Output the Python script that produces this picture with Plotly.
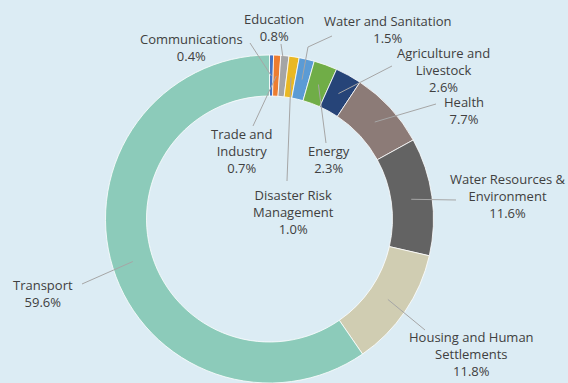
import math
import plotly.graph_objects as go

# Sector shares of total funding (%), clockwise from 12 o'clock
sectors = [
    "Communications",
    "Trade and Industry",
    "Education",
    "Disaster Risk Management",
    "Water and Sanitation",
    "Energy",
    "Agriculture and Livestock",
    "Health",
    "Water Resources & Environment",
    "Housing and Human Settlements",
    "Transport",
]
shares = [0.4, 0.7, 0.8, 1.0, 1.5, 2.3, 2.6, 7.7, 11.6, 11.8, 59.6]
label_lines = [
    ["Communications"],
    ["Trade and", "Industry"],
    ["Education"],
    ["Disaster Risk", "Management"],
    ["Water and Sanitation"],
    ["Energy"],
    ["Agriculture and", "Livestock"],
    ["Health"],
    ["Water Resources &", "Environment"],
    ["Housing and Human", "Settlements"],
    ["Transport"],
]
colors = [
    "#4472c4", "#ed7d31", "#a5a5a5", "#e9b824", "#5b9bd5", "#70ad47",
    "#264478", "#8c7b77", "#636363", "#d0cdb2", "#8ccbba",
]

W, H = 568, 383
BG = "#dcecf4"
TEXT = "#404040"
LEADER = "#a6a6a6"

# Donut placement in pixels
DX0, DX1 = 105, 434
DY0, DY1 = 55, 383
CX, CY = (DX0 + DX1) / 2, (DY0 + DY1) / 2
R = (DX1 - DX0) / 2
HOLE = 0.75

# Callout layout per sector: text block centre, leader start,
# optional elbow, radial fraction where the leader ends
callouts = [
    dict(x=191, y=48, start=(250, 43), elbow=None, rf=0.87),
    dict(x=241, y=151, start=(253, 126), elbow=None, rf=0.87),
    dict(x=274, y=27, start=(281, 44), elbow=None, rf=0.94),
    dict(x=293, y=212, start=(287, 181), elbow=None, rf=0.87),
    dict(x=388, y=29, start=(332, 36), elbow=(308, 47), rf=0.87),
    dict(x=329, y=159, start=(326, 143), elbow=None, rf=0.87),
    dict(x=443, y=70, start=(392, 66), elbow=None, rf=0.87),
    dict(x=464, y=110, start=(436, 104), elbow=None, rf=0.87),
    dict(x=508, y=196, start=(456, 200), elbow=None, rf=0.87),
    dict(x=471, y=354, start=(425, 330), elbow=None, rf=0.87),
    dict(x=43, y=293, start=(82, 284), elbow=None, rf=0.87),
]


def px(x):
    return x / W


def py(y):
    return 1 - y / H


fig = go.Figure(
    go.Pie(
        labels=sectors,
        values=shares,
        sort=False,
        direction="clockwise",
        rotation=0,
        hole=HOLE,
        textinfo="none",
        hoverinfo="label+percent",
        marker=dict(colors=colors, line=dict(color="#ffffff", width=0.8)),
        domain=dict(x=[px(DX0), px(DX1)], y=[py(DY1), py(DY0)]),
        showlegend=False,
    )
)

total = sum(shares)
annotations = []
shapes = []
cum = 0.0
for name, lines, val, c in zip(sectors, label_lines, shares, callouts):
    mid = (cum + val / 2) / total * 2 * math.pi
    cum += val
    ex = CX + R * c["rf"] * math.sin(mid)
    ey = CY - R * c["rf"] * math.cos(mid)
    pts = [c["start"]] + ([c["elbow"]] if c["elbow"] else []) + [(ex, ey)]
    path = "M " + " L ".join(f"{px(a):.5f},{py(b):.5f}" for a, b in pts)
    shapes.append(dict(type="path", path=path, xref="paper", yref="paper",
                       line=dict(color=LEADER, width=1)))
    annotations.append(dict(
        text="<br>".join(lines + [f"{val:.1f}%"]),
        x=px(c["x"]), y=py(c["y"]),
        xref="paper", yref="paper", xanchor="center", yanchor="middle",
        align="center", showarrow=False,
        font=dict(family="Open Sans", size=13, color=TEXT),
    ))

fig.update_layout(
    width=W, height=H,
    margin=dict(l=0, r=0, t=0, b=0),
    paper_bgcolor=BG, plot_bgcolor=BG,
    annotations=annotations, shapes=shapes,
)

fig.write_html("out.html")
